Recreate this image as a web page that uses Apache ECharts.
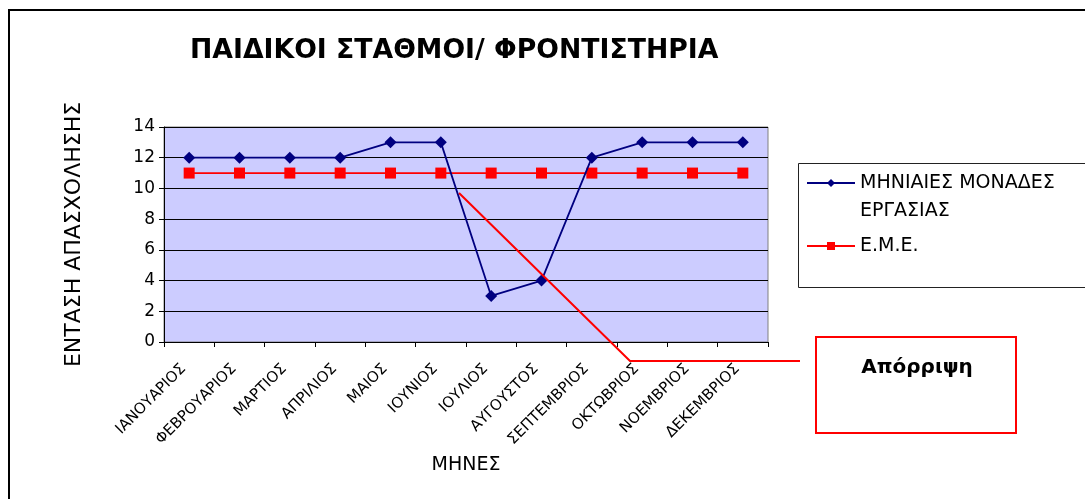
<!DOCTYPE html>
<html>
<head>
<meta charset="utf-8">
<title>ΠΑΙΔΙΚΟΙ ΣΤΑΘΜΟΙ/ ΦΡΟΝΤΙΣΤΗΡΙΑ</title>
<script src="https://cdn.jsdelivr.net/npm/echarts@6/dist/echarts.min.js"></script>
<style>
  html, body { margin: 0; padding: 0; background: #fff; }
  #chart { width: 1085px; height: 499px; }
</style>
</head>
<body>
<div id="chart"></div>
<script>
// μήνες
const months = ['ΙΑΝΟΥΑΡΙΟΣ', 'ΦΕΒΡΟΥΑΡΙΟΣ', 'ΜΑΡΤΙΟΣ', 'ΑΠΡΙΛΙΟΣ', 'ΜΑΙΟΣ', 'ΙΟΥΝΙΟΣ',
  'ΙΟΥΛΙΟΣ', 'ΑΥΓΟΥΣΤΟΣ', 'ΣΕΠΤΕΜΒΡΙΟΣ', 'ΟΚΤΩΒΡΙΟΣ', 'ΝΟΕΜΒΡΙΟΣ', 'ΔΕΚΕΜΒΡΙΟΣ'];
// μηνιαίες μονάδες εργασίας
const monthlyUnits = [12, 12, 12, 12, 13, 13, 3, 4, 12, 13, 13, 13];
// Ε.Μ.Ε.
const eme = [11, 11, 11, 11, 11, 11, 11, 11, 11, 11, 11, 11];

const seriesNames = ['ΜΗΝΙΑΙΕΣ ΜΟΝΑΔΕΣ\nΕΡΓΑΣΙΑΣ', 'Ε.Μ.Ε.'];
const font = 'DejaVu Sans';

let myChart = echarts.init(document.getElementById('chart'));

let option = {
  backgroundColor: '#fff',
  animation: false,
  title: {
    text: 'ΠΑΙΔΙΚΟΙ ΣΤΑΘΜΟΙ/ ΦΡΟΝΤΙΣΤΗΡΙΑ',
    left: 190,
    top: 38,
    padding: 0,
    textStyle: {
      fontFamily: font,
      fontSize: 26.7,
      fontWeight: 'bold',
      color: '#000'
    }
  },
  legend: {
    orient: 'vertical',
    left: 806,
    top: 141,
    padding: 0,
    itemWidth: 48,
    itemHeight: 10,
    itemGap: 7,
    data: seriesNames,
    // blank first line so the icon sits next to the first text line
    formatter: name => (name === seriesNames[0] ? '\n' + name : name),
    textStyle: {
      fontFamily: font,
      fontSize: 19,
      lineHeight: 28,
      color: '#000'
    }
  },
  grid: {
    left: 164,
    top: 127,
    width: 604,
    height: 215,
    show: true,
    backgroundColor: '#CCCCFF',
    borderColor: '#808080',
    borderWidth: 1,
    outerBoundsMode: 'none'
  },
  xAxis: {
    type: 'category',
    data: months,
    boundaryGap: true,
    name: 'ΜΗΝΕΣ',
    nameLocation: 'middle',
    nameGap: 114,
    nameTextStyle: { fontFamily: font, fontSize: 19, color: '#000' },
    axisLine: { lineStyle: { color: '#000', width: 1 } },
    axisTick: { show: true, length: 5, lineStyle: { color: '#000' } },
    axisLabel: {
      interval: 0,
      rotate: 45,
      margin: 19,
      padding: [0, 8, 14, 0],
      fontFamily: font,
      fontSize: 15,
      color: '#000'
    },
    splitLine: { show: false }
  },
  yAxis: {
    type: 'value',
    min: 0,
    max: 14,
    interval: 2,
    name: 'ΕΝΤΑΣΗ ΑΠΑΣΧΟΛΗΣΗΣ',
    nameLocation: 'middle',
    nameRotate: 90,
    nameGap: 79,
    nameTextStyle: { fontFamily: font, fontSize: 22, color: '#000' },
    axisLine: { show: true, lineStyle: { color: '#000', width: 1 } },
    axisTick: { show: true, length: 5, lineStyle: { color: '#000' } },
    axisLabel: {
      margin: 9,
      fontFamily: font,
      fontSize: 17,
      color: '#000'
    },
    splitLine: { show: true, lineStyle: { color: '#000', width: 1 } }
  },
  series: [{
    name: seriesNames[0],
    type: 'line',
    data: monthlyUnits,
    symbol: 'diamond',
    symbolSize: 12,
    lineStyle: { color: '#000080', width: 1.8 },
    itemStyle: { color: '#000080' },
    z: 3
  }, {
    name: seriesNames[1],
    type: 'line',
    data: eme,
    symbol: 'rect',
    symbolSize: 11,
    lineStyle: { color: '#FF0000', width: 1.8 },
    itemStyle: { color: '#FF0000' },
    z: 2
  }],
  graphic: [{
    // εξωτερικό πλαίσιο
    type: 'rect',
    shape: { x: 9, y: 10, width: 1100, height: 520 },
    style: { fill: null, stroke: '#000', lineWidth: 2 },
    silent: true
  }, {
    // πλαίσιο υπομνήματος
    type: 'rect',
    shape: { x: 798.5, y: 163.5, width: 300, height: 124 },
    style: { fill: null, stroke: '#222', lineWidth: 1 },
    silent: true
  }, {
    // γραμμή απόρριψης
    type: 'polyline',
    shape: { points: [[459, 193], [630, 361], [800, 361]] },
    style: { fill: null, stroke: '#FF0000', lineWidth: 2 },
    silent: true,
    z: 10
  }, {
    type: 'rect',
    shape: { x: 816, y: 337, width: 200, height: 96 },
    style: { fill: '#fff', stroke: '#FF0000', lineWidth: 2 },
    silent: true
  }, {
    type: 'text',
    x: 917,
    y: 368,
    style: {
      text: 'Απόρριψη',
      fontFamily: font,
      fontSize: 20,
      fontWeight: 'bold',
      fill: '#000',
      align: 'center',
      verticalAlign: 'middle'
    },
    silent: true
  }]
};

myChart.setOption(option, true);

window.addEventListener('resize', () => {
  myChart.resize();
});
</script>
</body>
</html>
